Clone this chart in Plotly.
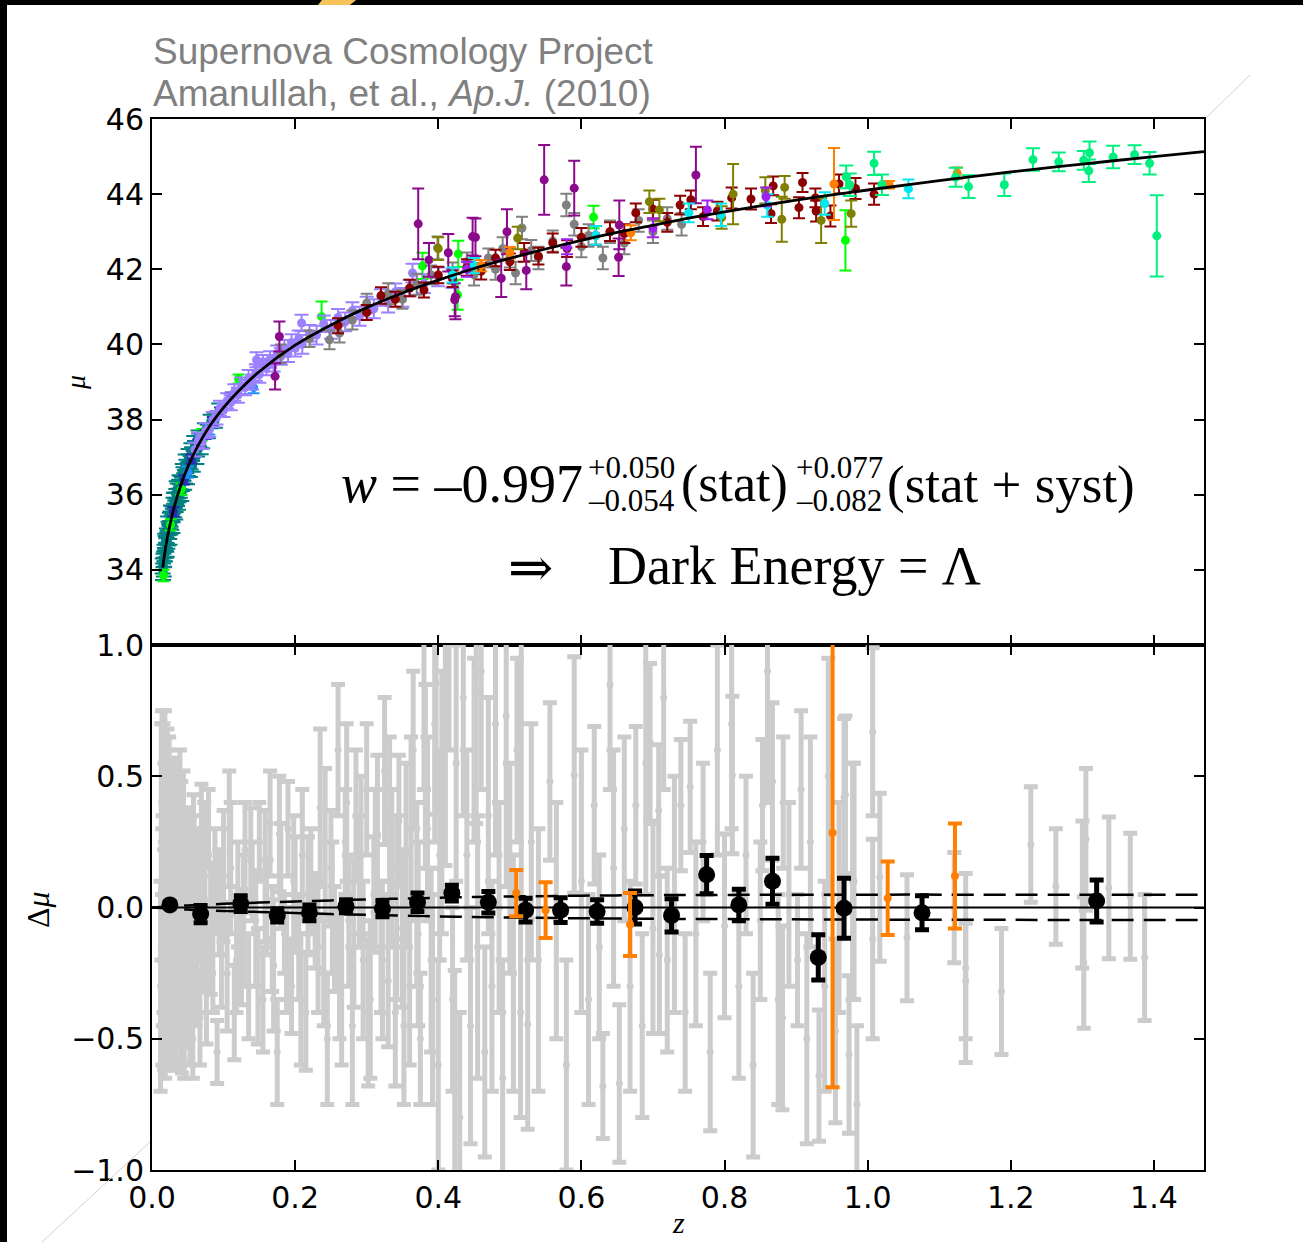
import plotly.graph_objects as go
from plotly.subplots import make_subplots

# ---------------- data ----------------
CURVE_Z = [0.015, 0.02, 0.025, 0.03, 0.04, 0.05, 0.06, 0.07, 0.08, 0.09, 0.1, 0.12, 0.15, 0.2,
           0.25, 0.3, 0.35, 0.4, 0.45, 0.5, 0.55, 0.6, 0.65, 0.7, 0.75, 0.8, 0.85, 0.9, 0.95,
           1.0, 1.1, 1.2, 1.3, 1.4, 1.47]
CURVE_MU = [34.06, 34.70, 35.19, 35.60, 36.24, 36.74, 37.15, 37.50, 37.81, 38.08, 38.32, 38.74,
            39.28, 39.98, 40.52, 40.98, 41.37, 41.71, 42.02, 42.29, 42.54, 42.77, 42.98, 43.17,
            43.36, 43.53, 43.69, 43.84, 43.98, 44.11, 44.36, 44.59, 44.80, 45.00, 45.13]

TEAL_Z = [0.015, 0.0155, 0.016, 0.017, 0.0175, 0.018, 0.019, 0.0195, 0.020, 0.021,
          0.0215, 0.022, 0.023, 0.024, 0.025, 0.0255, 0.026, 0.027, 0.028, 0.029,
          0.030, 0.031, 0.032, 0.033, 0.034, 0.035, 0.036, 0.037, 0.038, 0.039,
          0.040, 0.042, 0.044, 0.046, 0.048, 0.050, 0.052, 0.054, 0.056, 0.058,
          0.060, 0.063, 0.066, 0.070, 0.074, 0.078, 0.082, 0.088, 0.094,
          0.0165, 0.0185, 0.0205, 0.0225, 0.0245, 0.0265, 0.0285, 0.0305, 0.0325, 0.0345,
          0.0365, 0.0385, 0.041, 0.043, 0.045, 0.047, 0.049, 0.051, 0.053, 0.055,
          0.057, 0.059, 0.062, 0.065, 0.068]
TEAL_MU = [34.10, 33.95, 34.25, 34.28, 34.45, 34.40, 34.70, 34.52, 34.66, 34.90,
           34.78, 34.85, 35.10, 35.02, 35.30, 35.12, 35.35, 35.25, 35.50, 35.45,
           35.72, 35.58, 35.85, 35.72, 35.95, 35.88, 36.10, 35.98, 36.20, 36.10,
           36.32, 36.28, 36.55, 36.48, 36.75, 36.68, 36.90, 36.85, 37.08, 37.00,
           37.25, 37.20, 37.45, 37.42, 37.72, 37.68, 37.95, 37.96, 38.25,
           34.07, 34.74, 34.60, 35.20, 34.92, 35.49, 35.23, 35.83, 35.59, 36.14,
           35.82, 36.30, 36.05, 36.60, 36.35, 36.85, 36.50, 37.00, 36.69, 37.15,
           36.81, 37.36, 37.02, 37.51, 37.28]
TEAL_ERR = [0.20, 0.22, 0.18, 0.20, 0.22, 0.18, 0.20, 0.20, 0.18, 0.20,
            0.22, 0.20, 0.18, 0.20, 0.22, 0.18, 0.20, 0.18, 0.20, 0.18,
            0.20, 0.18, 0.20, 0.18, 0.20, 0.18, 0.20, 0.18, 0.20, 0.18,
            0.18, 0.18, 0.18, 0.18, 0.18, 0.18, 0.18, 0.18, 0.18, 0.18,
            0.18, 0.18, 0.18, 0.18, 0.18, 0.18, 0.18, 0.18, 0.18,
            0.25, 0.22, 0.25, 0.22, 0.25, 0.22, 0.25, 0.22, 0.25, 0.22,
            0.22, 0.22, 0.22, 0.22, 0.22, 0.22, 0.22, 0.22, 0.22, 0.22,
            0.20, 0.20, 0.20, 0.20, 0.20]

GREEN_Z = [0.016, 0.026, 0.041, 0.070, 0.121, 0.237, 0.378, 0.427, 0.428, 0.617, 0.969]
GREEN_MU = [33.85, 35.20, 36.15, 37.60, 39.08, 40.74, 42.09, 41.32, 42.41, 43.39, 42.77]
GREEN_ERR = [0.15, 0.15, 0.15, 0.15, 0.12, 0.40, 0.35, 0.40, 0.35, 0.30, 0.80]

NAVY_Z = [0.030, 0.045, 0.055, 0.065, 0.075, 0.085, 0.095, 0.110]
NAVY_MU = [35.55, 36.40, 36.95, 37.35, 37.60, 37.95, 38.20, 38.60]
NAVY_ERR = [0.12, 0.12, 0.12, 0.12, 0.12, 0.12, 0.12, 0.12]

DODGER_Z = [0.050, 0.080, 0.142]
DODGER_MU = [36.60, 37.75, 38.85]
DODGER_ERR = [0.15, 0.15, 0.15]

LAVENDER_Z = [0.06, 0.065, 0.07, 0.075, 0.08, 0.085, 0.09, 0.095, 0.10, 0.105,
              0.11, 0.115, 0.12, 0.125, 0.13, 0.135, 0.14, 0.145, 0.146, 0.15,
              0.155, 0.16, 0.165, 0.17, 0.175, 0.18, 0.185, 0.19, 0.195, 0.20,
              0.205, 0.209, 0.21, 0.22, 0.23, 0.24, 0.25, 0.26, 0.27, 0.28,
              0.29, 0.30, 0.31, 0.32, 0.33, 0.34, 0.35, 0.36, 0.364, 0.38,
              0.40, 0.42]
LAVENDER_MU = [37.20, 37.45, 37.40, 37.70, 37.72, 38.00, 38.05, 38.30, 38.25, 38.50,
               38.45, 38.72, 38.65, 38.90, 38.85, 39.10, 39.00, 39.25, 39.59, 39.20,
               39.50, 39.40, 39.60, 39.50, 39.75, 39.68, 39.90, 39.75, 40.05, 39.90,
               40.15, 40.57, 40.00, 40.30, 40.25, 40.55, 40.40, 40.72, 40.60, 40.90,
               40.75, 41.05, 40.95, 41.25, 41.10, 41.40, 41.25, 41.50, 41.90, 41.62,
               41.80, 41.75]
LAVENDER_ERR = [0.18, 0.20, 0.18, 0.20, 0.18, 0.20, 0.18, 0.20, 0.18, 0.20,
                0.20, 0.22, 0.20, 0.22, 0.20, 0.22, 0.20, 0.22, 0.20, 0.22,
                0.22, 0.22, 0.22, 0.22, 0.22, 0.22, 0.22, 0.22, 0.22, 0.22,
                0.22, 0.22, 0.25, 0.22, 0.25, 0.22, 0.25, 0.22, 0.25, 0.22,
                0.25, 0.22, 0.25, 0.22, 0.25, 0.22, 0.25, 0.22, 0.25, 0.25,
                0.25, 0.25]

GRAY_Z = [0.18, 0.22, 0.248, 0.262, 0.28, 0.30, 0.33, 0.35, 0.37, 0.39,
          0.399, 0.42, 0.44, 0.45, 0.47, 0.48, 0.49, 0.50, 0.508, 0.517,
          0.53, 0.54, 0.56, 0.579, 0.59, 0.60, 0.61, 0.63, 0.64, 0.66,
          0.68, 0.70, 0.72, 0.74]
GRAY_MU = [39.75, 40.15, 40.12, 40.30, 40.65, 41.10, 41.35, 41.20, 41.60, 41.85,
           42.57, 41.90, 42.20, 41.85, 42.30, 42.00, 42.55, 42.30, 41.90, 43.10,
           42.50, 42.30, 42.75, 43.71, 43.20, 42.60, 42.90, 42.30, 43.00, 42.70,
           43.30, 43.00, 43.35, 43.20]
GRAY_ERR = [0.25, 0.22, 0.25, 0.25, 0.25, 0.25, 0.28, 0.25, 0.28, 0.25,
            0.30, 0.28, 0.25, 0.28, 0.25, 0.28, 0.30, 0.25, 0.30, 0.30,
            0.28, 0.30, 0.28, 0.30, 0.30, 0.28, 0.30, 0.30, 0.30, 0.30,
            0.30, 0.30, 0.30, 0.30]

DARKRED_Z = [0.26, 0.30, 0.32, 0.34, 0.36, 0.38, 0.40, 0.42, 0.44, 0.46,
             0.48, 0.50, 0.52, 0.54, 0.56, 0.58, 0.60, 0.62, 0.64, 0.66,
             0.676, 0.70, 0.72, 0.738, 0.753, 0.77, 0.79, 0.81, 0.837, 0.865,
             0.868, 0.904, 0.909, 0.927, 0.928, 0.948, 0.96, 0.983, 1.009]
DARKRED_MU = [40.50, 40.85, 41.30, 41.20, 41.50, 41.45, 41.85, 41.75, 42.05, 41.95,
              42.30, 42.20, 42.45, 42.35, 42.70, 42.55, 42.85, 42.90, 43.00, 42.95,
              43.50, 43.60, 43.25, 43.71, 43.85, 43.40, 43.55, 43.90, 43.87, 43.48,
              44.22, 43.64, 44.31, 43.90, 43.55, 43.42, 44.27, 44.15, 44.00]
DARKRED_ERR = [0.20, 0.20, 0.22, 0.20, 0.22, 0.20, 0.22, 0.22, 0.22, 0.22,
               0.22, 0.22, 0.25, 0.22, 0.25, 0.22, 0.25, 0.25, 0.25, 0.25,
               0.25, 0.25, 0.25, 0.25, 0.25, 0.25, 0.25, 0.28, 0.28, 0.25,
               0.25, 0.28, 0.25, 0.25, 0.28, 0.28, 0.25, 0.28, 0.28]

PURPLE_Z = [0.172, 0.178, 0.372, 0.387, 0.414, 0.423, 0.424, 0.448, 0.452, 0.488,
            0.496, 0.523, 0.548, 0.579, 0.59, 0.652, 0.653, 0.76]
PURPLE_MU = [39.15, 40.21, 43.21, 42.25, 42.44, 41.19, 41.27, 42.87, 42.85, 41.76,
             43.00, 41.97, 44.38, 42.07, 44.16, 42.32, 43.18, 44.51]
PURPLE_ERR = [0.35, 0.40, 0.94, 0.45, 0.50, 0.44, 0.60, 0.50, 0.50, 0.50,
              0.60, 0.50, 0.93, 0.50, 0.73, 0.50, 0.65, 0.75]

OLIVE_Z = [0.40, 0.511, 0.695, 0.709, 0.796, 0.812, 0.857, 0.88, 0.884, 0.935, 0.977]
OLIVE_MU = [42.55, 42.83, 43.80, 43.58, 43.38, 44.00, 44.10, 43.33, 44.18, 43.30, 43.48]
OLIVE_ERR = [0.30, 0.30, 0.30, 0.30, 0.30, 0.80, 0.35, 0.60, 0.30, 0.60, 0.35]

CYAN_Z = [0.42, 0.45, 0.62, 0.75, 0.795, 0.86, 0.94, 1.057]
CYAN_MU = [41.85, 42.10, 42.90, 43.50, 43.45, 43.70, 43.75, 44.14]
CYAN_ERR = [0.20, 0.20, 0.25, 0.25, 0.30, 0.30, 0.30, 0.25]

SPRING_Z = [0.97, 0.975, 1.009, 1.02, 1.123, 1.141, 1.191, 1.231, 1.267, 1.302,
            1.31, 1.309, 1.343, 1.373, 1.394, 1.404]
SPRING_MU = [44.46, 44.25, 44.82, 44.25, 44.45, 44.20, 44.25, 44.92, 44.86, 44.90,
             45.10, 44.62, 44.99, 45.05, 44.82, 42.89]
SPRING_ERR = [0.30, 0.30, 0.31, 0.27, 0.25, 0.30, 0.30, 0.30, 0.25, 0.25,
              0.30, 0.30, 0.30, 0.25, 0.30, 1.08]

ORANGE_Z = [0.46, 0.50, 0.669, 0.953, 1.03, 1.125]
ORANGE_MU = [42.10, 42.44, 42.97, 44.27, 44.25, 44.56]
ORANGE_ERR = [0.15, 0.15, 0.20, 0.96, 0.10, 0.15]

VIOLET_Z = [0.44, 0.58, 0.70, 0.776, 0.858]
VIOLET_MU = [42.00, 42.60, 43.10, 43.58, 43.93]
VIOLET_ERR = [0.20, 0.20, 0.25, 0.25, 0.25]

# residuals (lower panel)
RESID_Z = [0.013, 0.015, 0.016, 0.017, 0.018, 0.019, 0.020, 0.021, 0.022, 0.023,
           0.024, 0.025, 0.026, 0.027, 0.028, 0.029, 0.030, 0.032, 0.033, 0.035,
           0.036, 0.038, 0.040, 0.041, 0.043, 0.045, 0.047, 0.049, 0.051, 0.053,
           0.055, 0.057, 0.059, 0.061, 0.064, 0.067, 0.070, 0.073, 0.076, 0.079,
           0.082, 0.085, 0.088, 0.091, 0.094, 0.097, 0.100, 0.105, 0.110, 0.115,
           0.120, 0.125, 0.130, 0.135, 0.140, 0.145, 0.150, 0.155, 0.160, 0.165,
           0.170, 0.175, 0.180, 0.185, 0.190, 0.195, 0.200, 0.205, 0.210, 0.215,
           0.222, 0.228, 0.235, 0.240, 0.245, 0.250, 0.255, 0.260, 0.265, 0.270,
           0.275, 0.280, 0.285, 0.290, 0.295, 0.300, 0.305, 0.310, 0.315, 0.320,
           0.325, 0.330, 0.335, 0.340, 0.345, 0.350, 0.355, 0.360, 0.365, 0.370,
           0.375, 0.380, 0.385, 0.390, 0.395, 0.397, 0.400, 0.405, 0.410, 0.415,
           0.420, 0.423, 0.425, 0.430, 0.435, 0.440, 0.445, 0.450, 0.453, 0.455,
           0.460, 0.465, 0.470, 0.475, 0.480, 0.485, 0.490, 0.495, 0.500, 0.505,
           0.510, 0.515, 0.516, 0.525, 0.530, 0.540, 0.556, 0.565, 0.579, 0.590,
           0.600, 0.610, 0.618, 0.625, 0.630, 0.640, 0.645, 0.653, 0.660, 0.668,
           0.676, 0.685, 0.690, 0.696, 0.700, 0.708, 0.709, 0.715, 0.720, 0.730,
           0.739, 0.745, 0.752, 0.760, 0.770, 0.780, 0.790, 0.800, 0.810, 0.811,
           0.820, 0.830, 0.840, 0.850, 0.853, 0.860, 0.867, 0.875, 0.881, 0.882,
           0.890, 0.902, 0.907, 0.915, 0.920, 0.932, 0.940, 0.945, 0.955, 0.960,
           0.967, 0.969, 0.974, 0.979, 0.981, 0.985, 1.007, 1.007, 1.017, 1.055,
           1.121, 1.137, 1.137, 1.187, 1.228, 1.263, 1.300, 1.302, 1.305, 1.337,
           1.367, 1.387,
           0.012, 0.014, 0.0145, 0.0175, 0.0185, 0.0215, 0.0235, 0.0265, 0.031, 0.034,
           0.037, 0.039, 0.042, 0.044, 0.048, 0.052, 0.058, 0.063, 0.069, 0.074,
           0.108, 0.118, 0.128, 0.138, 0.148, 0.158, 0.168, 0.178, 0.188, 0.198,
           0.208, 0.218, 0.232, 0.242, 0.252, 0.262, 0.272, 0.282, 0.292, 0.302,
           0.312, 0.322, 0.332, 0.342, 0.352, 0.362, 0.372, 0.382, 0.392, 0.402]
RESID_DMU = [0.25, -0.05, 0.15, -0.20, 0.30, -0.10, 0.05, -0.30, 0.20, -0.15,
             0.35, 0.00, -0.35, 0.10, -0.25, 0.22, -0.05, 0.28, -0.40, 0.12,
             -0.22, 0.05, -0.30, 0.18, -0.12, -0.45, 0.08, -0.20, 0.15, -0.35,
             -0.05, -0.50, 0.10, -0.25, 0.05, -0.42, -0.10, 0.20, -0.30, 0.30,
             -0.08, -0.25, 0.10, -0.55, 0.02, -0.18, 0.12, -0.25, 0.15, -0.40,
             0.05, -0.15, 0.22, -0.30, 0.10, -0.08, 0.25, -0.35, 0.00, 0.32,
             -0.22, -0.55, 0.12, -0.10, 0.30, -0.30, 0.05, -0.15, 0.20, -0.40,
             0.10, -0.05, 0.38, -0.25, -0.50, 0.15, -0.12, 0.60, -0.30, 0.25,
             -0.05, -0.45, 0.35, 0.10, -0.20, 0.45, -0.35, 0.05, 0.28, -0.15,
             0.52, -0.28, 0.15, -0.40, 0.33, -0.08, 0.20, -0.30, 0.60, 0.05,
             -0.50, 0.85, 0.30, -0.20, 0.70, 0.855, -0.60, 0.40, 0.61, 1.00,
             -0.35, -0.64, 0.55, -0.80, 0.80, 0.20, -0.45, 0.60, 0.82, -0.15,
             0.90, -0.55, 0.35, -0.30, 0.70, 0.00, -0.65, 0.73, 0.15, -0.25,
             0.60, -0.40, 0.70, -0.445, 0.25, -0.20, 0.48, -0.05, -0.60, 0.505,
             0.10, -0.35, 0.39, -0.15, -0.68, 0.85, 0.15, -0.67, 0.30, -0.30,
             0.39, -0.45, 0.55, 0.63, -0.08, 0.37, -0.18, 0.80, -0.20, 0.05,
             0.39, -0.40, 0.46, -0.10, 0.25, -0.55, 0.60, -0.07, 0.70, 0.505,
             -0.30, 0.20, -0.60, -0.05, 0.39, 0.90, 0.48, -0.35, -0.42, 0.40,
             0.05, -0.20, 0.45, -0.50, 0.25, -0.64, -0.30, 0.50, -0.47, 0.00,
             0.42, 0.43, -0.56, 0.10, 0.10, -0.75, 0.67, -0.12, 0.115, -0.115,
             0.00, -0.23, -0.28, -0.32, 0.24, 0.08, 0.05, -0.21, 0.26, 0.075,
             0.043, -0.19,
             -0.30, 0.40, -0.15, 0.05, -0.35, 0.28, -0.05, 0.15, -0.25, 0.10,
             -0.10, 0.30, -0.38, 0.22, -0.28, 0.05, 0.18, -0.15, 0.25, -0.05,
             0.30, -0.20, -0.05, 0.18, -0.30, 0.12, -0.12, 0.28, -0.20, 0.10,
             -0.35, 0.05, -0.15, 0.25, 0.00, -0.25, 0.40, -0.10, 0.20, -0.40,
             0.15, -0.20, 0.35, 0.00, -0.45, 0.30, -0.10, 0.50, -0.35, 0.20]
RESID_ERR = [0.45, 0.40, 0.55, 0.42, 0.45, 0.50, 0.55, 0.30, 0.40, 0.45,
             0.30, 0.50, 0.25, 0.45, 0.35, 0.35, 0.45, 0.25, 0.22, 0.35,
             0.30, 0.40, 0.28, 0.30, 0.35, 0.20, 0.30, 0.25, 0.22, 0.25,
             0.30, 0.15, 0.25, 0.20, 0.25, 0.18, 0.22, 0.20, 0.22, 0.15,
             0.25, 0.15, 0.20, 0.12, 0.20, 0.20, 0.25, 0.22, 0.25, 0.18,
             0.20, 0.22, 0.18, 0.20, 0.15, 0.22, 0.15, 0.20, 0.18, 0.20,
             0.25, 0.20, 0.20, 0.15, 0.18, 0.18, 0.22, 0.20, 0.25, 0.22,
             0.20, 0.18, 0.30, 0.20, 0.25, 0.22, 0.20, 0.25, 0.30, 0.20,
             0.25, 0.30, 0.25, 0.25, 0.30, 0.25, 0.30, 0.22, 0.30, 0.25,
             0.28, 0.25, 0.30, 0.28, 0.25, 0.30, 0.35, 0.30, 0.30, 0.35,
             0.25, 0.40, 0.35, 0.35, 0.45, 0.50, 0.40, 0.50, 0.45, 0.40,
             0.35, 0.40, 0.45, 0.40, 0.45, 0.40, 0.45, 0.35, 0.50, 0.50,
             0.45, 0.40, 0.45, 0.40, 0.50, 0.40, 0.45, 0.65, 0.40, 0.45,
             0.35, 0.40, 0.70, 0.40, 0.45, 0.50, 0.30, 0.45, 0.40, 0.45,
             0.50, 0.40, 0.30, 0.35, 0.20, 0.40, 0.45, 0.30, 0.35, 0.40,
             0.30, 0.35, 0.50, 0.30, 0.40, 0.25, 0.30, 0.35, 0.35, 0.45,
             0.25, 0.30, 0.25, 0.35, 0.30, 0.30, 0.40, 0.35, 0.40, 0.30,
             0.35, 0.30, 0.35, 0.30, 0.25, 0.50, 0.30, 0.40, 0.35, 0.25,
             0.35, 0.25, 0.30, 0.40, 0.40, 0.25, 0.40, 0.45, 0.35, 0.40,
             0.30, 0.30, 0.30, 0.45, 0.45, 0.30, 0.32, 0.38, 0.32, 0.24,
             0.21, 0.36, 0.22, 0.24, 0.22, 0.22, 0.28, 0.25, 0.27, 0.27,
             0.24, 0.24,
             0.40, 0.35, 0.45, 0.50, 0.30, 0.40, 0.45, 0.40, 0.35, 0.40,
             0.35, 0.30, 0.25, 0.30, 0.25, 0.30, 0.25, 0.25, 0.22, 0.25,
             0.22, 0.20, 0.25, 0.20, 0.22, 0.25, 0.20, 0.22, 0.20, 0.25,
             0.25, 0.22, 0.25, 0.28, 0.25, 0.25, 0.30, 0.28, 0.30, 0.28,
             0.30, 0.30, 0.30, 0.35, 0.30, 0.35, 0.35, 0.35, 0.40, 0.40]

BIN_Z = [0.025, 0.068, 0.124, 0.175, 0.220, 0.271, 0.322, 0.371, 0.419, 0.470, 0.522,
         0.571, 0.622, 0.675, 0.726, 0.775, 0.820, 0.867, 0.931, 0.967, 1.076, 1.320]
BIN_DMU = [0.010, -0.025, 0.015, -0.030, -0.020, 0.005, -0.005, 0.020, 0.055, 0.020, -0.010,
           -0.010, -0.015, 0.000, -0.030, 0.125, 0.010, 0.100, -0.190, -0.003, -0.020, 0.025]
BIN_ERR = [0.010, 0.033, 0.030, 0.025, 0.030, 0.025, 0.030, 0.035, 0.030, 0.041, 0.045,
           0.047, 0.045, 0.063, 0.063, 0.073, 0.060, 0.088, 0.086, 0.114, 0.065, 0.080]

NEW_Z = [0.509, 0.550, 0.668, 0.951, 1.028, 1.122]
NEW_DMU = [0.055, -0.010, -0.065, 0.285, 0.035, 0.120]
NEW_ERR = [0.088, 0.106, 0.120, 0.970, 0.140, 0.200]

BAND_Z = [0.0, 0.05, 0.1, 0.15, 0.2, 0.25, 0.3, 0.35, 0.4, 0.45, 0.5, 0.6, 0.7, 0.8, 1.0, 1.2, 1.47]
BAND_UP = [0.0, 0.008, 0.014, 0.019, 0.023, 0.027, 0.031, 0.034, 0.037, 0.040, 0.042, 0.045,
           0.047, 0.048, 0.049, 0.049, 0.049]
BAND_LO = [0.0, -0.008, -0.013, -0.017, -0.021, -0.025, -0.028, -0.031, -0.034, -0.036, -0.038,
           -0.041, -0.043, -0.044, -0.046, -0.047, -0.048]
ZERO_Z = [0.0, 1.47]
ZERO_V = [0.0, 0.0]

MU_TICKS = [34, 36, 38, 40, 42, 44, 46]
DMU_TICKS = [-1.0, -0.5, 0.0, 0.5, 1.0]
Z_TICKS = [0.0, 0.2, 0.4, 0.6, 0.8, 1.0, 1.2, 1.4]

# ---------------- figure ----------------
W, H = 1303, 1242
L, R, T, B = 152, 99, 119, 72
PW, PH = W - L - R, H - T - B


def px(xp):
    return (xp - L) / PW


def py(yp):
    return (H - B - yp) / PH


fig = make_subplots(rows=2, cols=1, shared_xaxes=True, vertical_spacing=0)

groups = [
    (TEAL_Z, TEAL_MU, TEAL_ERR, "#008080", 8),
    (GREEN_Z, GREEN_MU, GREEN_ERR, "#00ff00", 6),
    (NAVY_Z, NAVY_MU, NAVY_ERR, "#2a2ab8", 6),
    (DODGER_Z, DODGER_MU, DODGER_ERR, "#1e90ff", 6),
    (LAVENDER_Z, LAVENDER_MU, LAVENDER_ERR, "#9b80ff", 7),
    (GRAY_Z, GRAY_MU, GRAY_ERR, "#808080", 6),
    (DARKRED_Z, DARKRED_MU, DARKRED_ERR, "#8b0000", 6),
    (PURPLE_Z, PURPLE_MU, PURPLE_ERR, "#8b0a8b", 6),
    (OLIVE_Z, OLIVE_MU, OLIVE_ERR, "#808000", 6),
    (CYAN_Z, CYAN_MU, CYAN_ERR, "#00e8f0", 6),
    (VIOLET_Z, VIOLET_MU, VIOLET_ERR, "#a020f0", 6),
    (ORANGE_Z, ORANGE_MU, ORANGE_ERR, "#ff7f00", 6),
    (SPRING_Z, SPRING_MU, SPRING_ERR, "#00f080", 7),
]
for zz, mm, ee, col, cap in groups:
    fig.add_trace(go.Scatter(
        x=zz, y=mm, mode="markers",
        marker=dict(color=col, size=9, line=dict(width=0)),
        error_y=dict(type="data", array=ee, color=col, thickness=2, width=cap),
        showlegend=False, hoverinfo="skip"), row=1, col=1)

fig.add_trace(go.Scatter(x=CURVE_Z, y=CURVE_MU, mode="lines",
                         line=dict(color="black", width=2.8, shape="spline"),
                         showlegend=False, hoverinfo="skip"), row=1, col=1)

# lower panel
fig.add_trace(go.Scatter(
    x=RESID_Z, y=RESID_DMU, mode="markers",
    marker=dict(color="#cccccc", size=7, line=dict(width=0)),
    error_y=dict(type="data", array=RESID_ERR, color="#cccccc", thickness=5, width=7),
    showlegend=False, hoverinfo="skip"), row=2, col=1)
fig.add_trace(go.Scatter(x=ZERO_Z, y=ZERO_V, mode="lines", line=dict(color="black", width=2),
                         showlegend=False, hoverinfo="skip"), row=2, col=1)
for band in (BAND_UP, BAND_LO):
    fig.add_trace(go.Scatter(x=BAND_Z, y=band, mode="lines",
                             line=dict(color="black", width=2.5, dash="22px,10px", shape="spline"),
                             showlegend=False, hoverinfo="skip"), row=2, col=1)
fig.add_trace(go.Scatter(
    x=BIN_Z, y=BIN_DMU, mode="markers",
    marker=dict(color="black", size=17, line=dict(width=0)),
    error_y=dict(type="data", array=BIN_ERR, color="black", thickness=5, width=7),
    showlegend=False, hoverinfo="skip"), row=2, col=1)
fig.add_trace(go.Scatter(
    x=NEW_Z, y=NEW_DMU, mode="markers",
    marker=dict(color="#ff7f00", size=8, line=dict(width=0)),
    error_y=dict(type="data", array=NEW_ERR, color="#ff7f00", thickness=4, width=7),
    showlegend=False, hoverinfo="skip"), row=2, col=1)

axis_common = dict(showline=True, linecolor="black", linewidth=2, mirror="ticks",
                   ticks="inside", ticklen=10, tickwidth=1.5, tickcolor="black",
                   showgrid=False, zeroline=False,
                   tickfont=dict(family="DejaVu Sans", size=30, color="black"))

fig.update_xaxes(range=[0, 1.47], tickvals=Z_TICKS, **axis_common)
fig.update_xaxes(showticklabels=False, row=1, col=1)
fig.update_xaxes(tickformat=".1f", row=2, col=1)
fig.update_yaxes(**axis_common)
fig.update_yaxes(range=[32, 46], tickvals=MU_TICKS, domain=[py(645), 1.0], row=1, col=1)
fig.update_yaxes(range=[-1, 1], tickvals=DMU_TICKS, tickformat=".1f", domain=[0.0, py(645)],
                 row=2, col=1)

serif = "Liberation Serif, DejaVu Serif, serif"
ann = []


def text(xp, yp, s, size, family=serif, color="black", xanchor="left", angle=0):
    ann.append(dict(xref="paper", yref="paper", x=px(xp), y=py(yp), text=s, showarrow=False,
                    xanchor=xanchor, yanchor="middle", textangle=angle,
                    font=dict(family=family, size=size, color=color)))


sans = "Liberation Sans, Arial, sans-serif"
text(151, 51, "Supernova Cosmology Project", 37, family=sans, color="#808080")
text(151, 93, "Amanullah, et al., <i>Ap.J.</i> (2010)", 37, family=sans, color="#808080")

text(585, 484, "<i>w</i> = –0.997", 54, xanchor="right")
text(586, 467, "+0.050", 31)
text(586, 501, "–0.054", 31)
text(679, 484, "(stat)", 52)
text(794, 467, "+0.077", 31)
text(794, 501, "–0.082", 31)
text(885, 484, "(stat + syst)", 53)
text(530, 567, "⇒", 54, family="DejaVu Serif, serif", xanchor="center")
text(606, 566, "Dark Energy = Λ", 54)

text(75, 383, "<i>μ</i>", 28, angle=-90, xanchor="center")
text(38, 910, "Δ<i>μ</i>", 32, angle=-90, xanchor="center")
text(678, 1222, "<i>z</i>", 30, xanchor="center")

fig.update_layout(annotations=ann)

shapes = [
    dict(type="rect", xref="paper", yref="paper", x0=px(0), x1=px(W), y0=py(5), y1=py(0),
         fillcolor="black", line=dict(width=0), layer="above"),
    dict(type="rect", xref="paper", yref="paper", x0=px(0), x1=px(7), y0=py(H), y1=py(0),
         fillcolor="black", line=dict(width=0), layer="above"),
    dict(type="path", xref="paper", yref="paper",
         path=f"M {px(322)} {py(0)} L {px(356)} {py(0)} L {px(350)} {py(5)} L {px(318)} {py(5)} Z",
         fillcolor="#f5c35a", line=dict(width=0), layer="above"),
    dict(type="line", xref="paper", yref="paper", x0=px(1206), y0=py(118), x1=px(1250),
         y1=py(75), line=dict(color="#d0d0d0", width=1)),
    dict(type="line", xref="paper", yref="paper", x0=px(150), y0=py(1142), x1=px(42),
         y1=py(1242), line=dict(color="#d0d0d0", width=1)),
]
fig.update_layout(shapes=shapes)

fig.update_layout(width=W, height=H, margin=dict(l=L, r=R, t=T, b=B),
                  paper_bgcolor="white", plot_bgcolor="white", showlegend=False)

fig.write_html("out.html")
